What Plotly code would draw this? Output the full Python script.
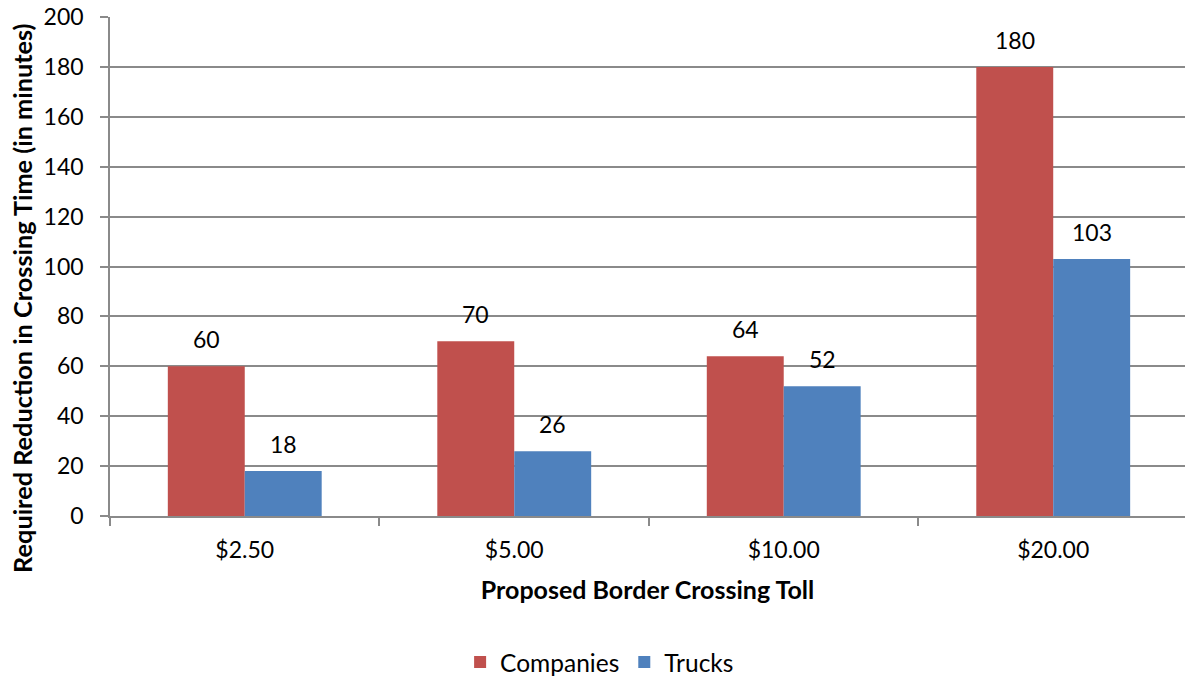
import plotly.graph_objects as go

# Toll levels and required crossing-time reductions (minutes)
tolls = ["$2.50", "$5.00", "$10.00", "$20.00"]
companies = [60, 70, 64, 180]
trucks = [18, 26, 52, 103]

RED = "#C0504D"
BLUE = "#4F81BD"
GRID = "#8a8a8a"
FONT = "Lato, Carlito, 'Open Sans', sans-serif"

fig = go.Figure()
fig.add_trace(go.Bar(name="Companies", x=tolls, y=companies, marker_color=RED,
                     marker_line_width=0))
fig.add_trace(go.Bar(name="Trucks", x=tolls, y=trucks, marker_color=BLUE,
                     marker_line_width=0))

# value labels above each bar
bar_px = 77
for series, shift in ((companies, -bar_px / 2), (trucks, bar_px / 2)):
    for cat, val in zip(tolls, series):
        fig.add_annotation(x=cat, y=val, text=str(val), showarrow=False,
                           xshift=shift, yshift=27, yanchor="middle",
                           font=dict(size=23, color="#000000", family=FONT))

# vertical axis title, centred on the whole chart height
fig.add_annotation(
    text="<b>Required Reduction in Crossing Time (in minutes)</b>",
    xref="paper", yref="paper", x=-0.0819, y=0.437,
    xanchor="center", yanchor="middle", textangle=-90, showarrow=False,
    font=dict(size=25.3, color="#000000", family=FONT),
)

fig.update_layout(
    width=1185, height=679,
    margin=dict(l=110, r=0, t=17, b=163),
    paper_bgcolor="white", plot_bgcolor="white",
    barmode="group", bargap=0.429, bargroupgap=0,
    font=dict(family=FONT, size=23, color="#000000"),
    showlegend=True,
    legend=dict(orientation="h", xref="container", yref="container",
                x=0.506, xanchor="center", y=0.025, yanchor="middle",
                font=dict(size=24.5), itemwidth=30, traceorder="normal"),
)

fig.update_xaxes(
    type="category", range=[-0.5, 3.489],
    showline=True, linecolor=GRID, linewidth=1.5,
    ticks="outside", tickson="boundaries", ticklen=8, tickcolor=GRID,
    tickwidth=1.5, showgrid=False,
    tickfont=dict(size=23), ticklabelstandoff=13,
    title=dict(text="<b>Proposed Border Crossing Toll</b>",
               font=dict(size=25), standoff=19),
)
fig.update_yaxes(
    range=[0, 200], dtick=20,
    showline=True, linecolor=GRID, linewidth=1.5,
    ticks="outside", ticklen=8, tickcolor=GRID, tickwidth=1.5,
    showgrid=True, gridcolor=GRID, gridwidth=1.5,
    zeroline=False,
    tickfont=dict(size=23), ticklabelstandoff=12,
)

fig.write_html("out.html")
